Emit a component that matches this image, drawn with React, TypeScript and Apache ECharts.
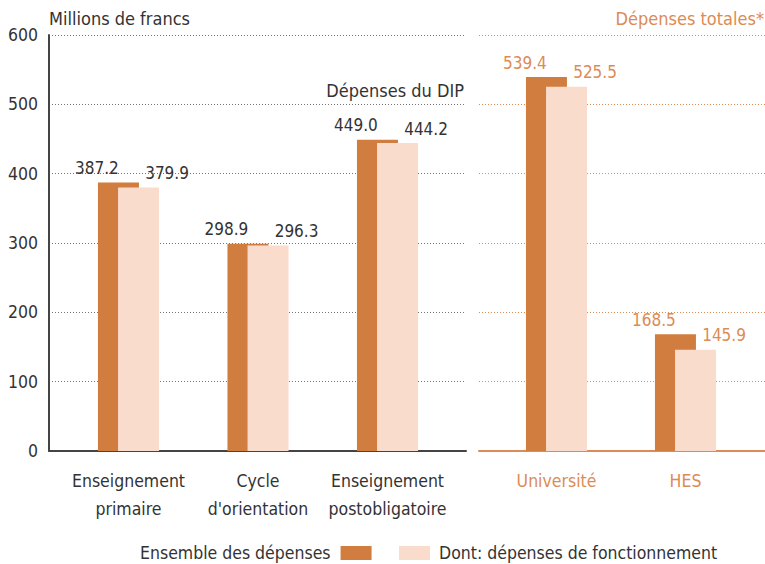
import React, { useEffect, useRef } from "react";
import * as echarts from "echarts";

const leftCategories = ["Enseignement\nprimaire", "Cycle\nd'orientation", "Enseignement\npostobligatoire"];
const rightCategories = ["Université", "HES"];
const leftTotal = [387.2, 298.9, 449.0];
const leftFonct = [379.9, 296.3, 444.2];
const rightTotal = [539.4, 168.5];
const rightFonct = [525.5, 145.9];
const yTicks = { min: 0, max: 600, interval: 100 };
const seriesNames = ["Ensemble des dépenses", "Dont: dépenses de fonctionnement"];

const FONT = "'DejaVu Sans Condensed', 'Liberation Sans Narrow', sans-serif";
const DARK = "#D07D3F";
const LIGHT = "#FADCCC";
const TEXT = "#333333";
const ORANGE = "#DC8B55";
const FS = 17.5;
const TFS = 18;
const VFS = 17;

export default function App() {
  const ref = useRef<HTMLDivElement>(null);
  useEffect(() => {
    if (!ref.current) return;
    const chart = echarts.init(ref.current, undefined, { renderer: "svg" });
    const top = 35;
    const height = 416;
    const fmt = (p: any) => Number(p.value).toFixed(1);
    const barBase = (color: string, name: string, xi: number, data: number[], labelColor: string, dx: number) => ({
      type: "bar",
      name,
      xAxisIndex: xi,
      yAxisIndex: xi,
      data,
      barWidth: 41,
      barGap: "-51%",
      itemStyle: { color },
      label: {
        show: true,
        position: "top",
        distance: 6,
        offset: [dx, 0],
        formatter: fmt,
        color: labelColor,
        fontFamily: FONT,
        fontSize: VFS,
      },
    });
    chart.setOption({
      animation: false,
      textStyle: { fontFamily: FONT },
      grid: [
        { left: 49, width: 417, top, height },
        { left: 63.75, width: 388.5, top, height },
        { left: 479, width: 286, top, height },
        { left: 492, width: 258, top, height },
      ],
      xAxis: [
        {
          gridIndex: 0, type: "value", min: 0, max: 1,
          axisLine: { show: true, onZero: false, lineStyle: { color: "#444", width: 2 } },
          axisTick: { show: false }, axisLabel: { show: false }, splitLine: { show: false },
        },
        {
          gridIndex: 1, type: "category", data: leftCategories,
          axisLine: { show: false }, axisTick: { show: false },
          axisLabel: { interval: 0, color: TEXT, fontSize: FS, fontFamily: FONT, margin: 16, lineHeight: 28 },
        },
        {
          gridIndex: 2, type: "value", min: 0, max: 1,
          axisLine: { show: true, onZero: false, lineStyle: { color: ORANGE, width: 2 } },
          axisTick: { show: false }, axisLabel: { show: false }, splitLine: { show: false },
        },
        {
          gridIndex: 3, type: "category", data: rightCategories,
          axisLine: { show: false }, axisTick: { show: false },
          axisLabel: { interval: 0, color: ORANGE, fontSize: FS, fontFamily: FONT, margin: 16, lineHeight: 28 },
        },
      ],
      yAxis: [
        {
          gridIndex: 0, type: "value", ...yTicks,
          axisLine: { show: true, lineStyle: { color: "#444", width: 2 } },
          axisTick: { show: false },
          axisLabel: { color: TEXT, fontSize: FS, fontFamily: FONT, margin: 11 },
          splitLine: { show: true, lineStyle: { color: "#777", type: [1, 2], width: 1 } },
        },
        { gridIndex: 1, type: "value", ...yTicks, show: false, splitLine: { show: false } },
        {
          gridIndex: 2, type: "value", ...yTicks,
          axisLine: { show: false }, axisTick: { show: false }, axisLabel: { show: false },
          splitLine: { show: true, lineStyle: { color: ORANGE, type: [1, 2], width: 1 } },
        },
        { gridIndex: 3, type: "value", ...yTicks, show: false, splitLine: { show: false } },
      ],
      legend: [
        {
          data: [seriesNames[0]], left: 140, top: 544, align: "right",
          itemWidth: 31, itemHeight: 14, icon: "rect", padding: 0,
          textStyle: { color: TEXT, fontSize: FS, fontFamily: FONT, padding: [0, 5, 0, 0] },
        },
        {
          data: [seriesNames[1]], left: 399, top: 544, align: "left",
          itemWidth: 31, itemHeight: 14, icon: "rect", padding: 0,
          textStyle: { color: TEXT, fontSize: FS, fontFamily: FONT, padding: [0, 0, 0, 4] },
        },
      ],
      graphic: [
        { type: "text", x: 49, y: 18, style: { text: "Millions de francs", fill: TEXT, font: `${TFS}px ${FONT}`, textVerticalAlign: "middle" } },
        { type: "text", x: 464, y: 90, style: { text: "Dépenses du DIP", fill: TEXT, font: `${TFS}px ${FONT}`, textAlign: "right", textVerticalAlign: "middle" } },
        { type: "text", x: 764, y: 18, style: { text: "Dépenses totales*", fill: ORANGE, font: `${TFS}px ${FONT}`, textAlign: "right", textVerticalAlign: "middle" } },
      ],
      series: [
        barBase(DARK, seriesNames[0], 1, leftTotal, TEXT, -21.5),
        barBase(LIGHT, seriesNames[1], 1, leftFonct, TEXT, 28.5),
        barBase(DARK, seriesNames[0], 3, rightTotal, ORANGE, -21.5),
        barBase(LIGHT, seriesNames[1], 3, rightFonct, ORANGE, 28.5),
      ],
    });
    return () => chart.dispose();
  }, []);
  return <div ref={ref} style={{ width: 765, height: 564, position: "absolute", left: 0, top: 0 }} />;
}
